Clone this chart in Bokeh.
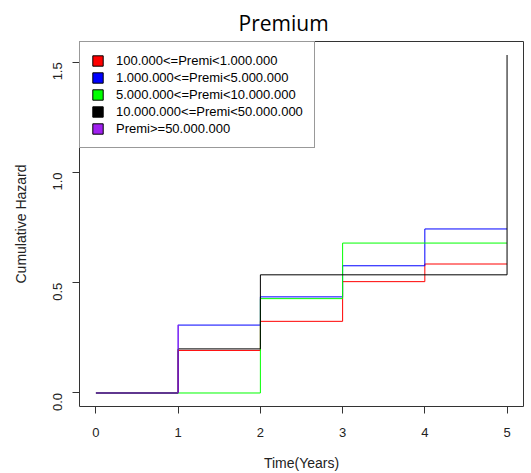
from bokeh.plotting import figure
from bokeh.models import Range1d, FixedTicker, Legend, LegendItem, Title
from bokeh.embed import file_html
from bokeh.resources import INLINE

# ---- data ----
red_t = [0, 1, 2, 3, 4, 5]
red_h = [0.0, 0.193, 0.325, 0.505, 0.585, 0.585]
blue_t = [0, 1, 2, 3, 4, 5]
blue_h = [0.0, 0.308, 0.436, 0.577, 0.744, 0.744]
green_t = [0, 1, 2, 3, 4, 5]
green_h = [0.0, 0.0, 0.428, 0.680, 0.680, 0.680]
black_t = [0, 1, 2, 5, 5]
black_h = [0.0, 0.200, 0.536, 0.536, 1.533]
purple_t = [0, 1]
purple_h = [0.0, 0.31]

labels = ["100.000<=Premi<1.000.000", "1.000.000<=Premi<5.000.000",
          "5.000.000<=Premi<10.000.000", "10.000.000<=Premi<50.000.000",
          "Premi>=50.000.000"]
colors = ["#FF0000", "#0000FF", "#00FF00", "#000000", "#A020F0"]
x_ticks = [0, 1, 2, 3, 4, 5]
y_ticks = [0.0, 0.5, 1.0, 1.5]

FONT = "Liberation Sans"
NAN = float("nan")

p = figure(width=531, height=473, output_backend="svg", toolbar_location=None,
           x_range=Range1d(-0.2, 5.2), y_range=Range1d(-0.0613, 1.5943),
           min_border_left=79, min_border_right=8, min_border_top=41,
           min_border_bottom=66)
p.grid.visible = False
p.outline_line_color = "#333333"
p.outline_line_width = 1
p.background_fill_color = "white"
p.border_fill_color = "white"

p.add_layout(Title(text="Premium", text_font="Open Sans", text_font_size="21px",
                   text_font_style="normal", align="left", offset=159,
                   text_color="#000000"), "above")

for ax in (p.xaxis[0], p.yaxis[0]):
    ax.axis_line_color = None
    ax.major_tick_in = 0
    ax.major_tick_out = 7
    ax.major_tick_line_color = "#333333"
    ax.minor_tick_line_color = None
    ax.major_label_text_font = FONT
    ax.major_label_text_font_size = "13px"
    ax.major_label_text_color = "#222222"
    ax.axis_label_text_font = FONT
    ax.axis_label_text_font_size = "14px"
    ax.axis_label_text_font_style = "normal"
    ax.axis_label_text_color = "#222222"

p.xaxis.ticker = FixedTicker(ticks=x_ticks)
p.yaxis.ticker = FixedTicker(ticks=y_ticks)
p.yaxis.major_label_overrides = {v: f"{v:.1f}" for v in y_ticks}
p.yaxis.major_label_orientation = 3.14159265 / 2
p.xaxis.major_label_standoff = 14
p.yaxis.major_label_standoff = 15
p.xaxis.axis_label = "Time(Years)"
p.yaxis.axis_label = "Cumulative Hazard"
p.xaxis.axis_label_standoff = 15
p.yaxis.axis_label_standoff = 17

series = [(red_t, red_h), (blue_t, blue_h), (green_t, green_h),
          (black_t, black_h), (purple_t, purple_h)]
for (t, h), c in zip(series, colors):
    p.step(t, h, mode="after", line_color=c, line_width=1)

items = []
for lab, c in zip(labels, colors):
    r = p.quad(left=[NAN], right=[NAN], top=[NAN], bottom=[NAN], fill_color=c,
               line_color="#000000", line_width=1)
    items.append(LegendItem(label=lab, renderers=[r]))

leg = Legend(items=items, location="top_left", margin=0, padding=11,
             spacing=2, glyph_width=13, glyph_height=13, label_height=15,
             label_standoff=12, label_text_font=FONT, label_text_font_size="13px",
             label_text_color="#000000", border_line_color="#333333",
             border_line_width=1, background_fill_alpha=1.0)
p.add_layout(leg, "center")

open("out.html", "w").write(file_html(p, INLINE))
